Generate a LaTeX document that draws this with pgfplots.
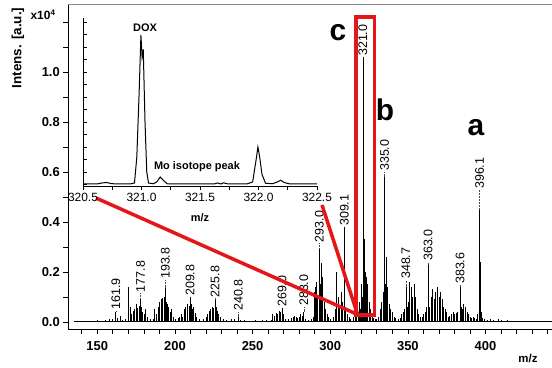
\documentclass[border=0pt]{standalone}
\usepackage{fontspec}
\setmainfont{Liberation Sans}
\usepackage{pgfplots}
\pgfplotsset{compat=1.18}
\definecolor{myred}{RGB}{228,22,26}
\begin{document}
\begin{tikzpicture}
\useasboundingbox (0bp,0bp) rectangle (552bp,368bp);
\begin{axis}[
  at={(68.3bp,39bp)}, anchor=south west, scale only axis,
  width=483.7bp, height=324bp,
  xmin=131.33, xmax=442.8, ymin=-0.028, ymax=1.268,
  axis x line*=bottom, axis y line*=left,
  axis line style={black, line width=0.8bp},
  clip=false,
  tick align=outside,
  xtick={150,200,250,300,350,400},
  minor xtick={140,160,170,180,190,210,220,230,240,260,270,280,290,310,320,330,340,360,370,380,390,410,420,430,440},
  ytick={0,0.2,0.4,0.6,0.8,1.0},
  minor ytick={0.1,0.3,0.5,0.7,0.9,1.1,1.2},
  major tick length=5bp, minor tick length=5bp,
  tick style={black, line width=0.7bp},
  /pgf/number format/assume math mode=true,
  ticklabel style={font=\fontsize{13}{13}\selectfont\bfseries},
  xticklabel style={yshift=-4bp, /pgf/number format/.cd, fixed, precision=0},
  yticklabel style={/pgf/number format/.cd, fixed, fixed zerofill, precision=1},
]
% baseline
\addplot[black, line width=0.6bp] coordinates {(135,0.002) (442.8,0.002)};
% spectrum sticks
\addplot[ycomb, black, line width=0.7bp, mark=none] coordinates {
(138,0.003) (142,0.004) (145,0.005) (148,0.004) (150,0.006) (153,0.005) (155,0.008) (158,0.01) (160,0.012)
(161.9,0.04) (163,0.015) (165,0.025) (166,0.008) (168,0.01)
(170,0.138) (171,0.06) (172,0.03) (173,0.045) (174,0.05) (175,0.07) (176,0.055) (177,0.065) (177.8,0.095) (178.5,0.06) (179,0.04) (180,0.03) (181,0.05) (182,0.02) (184,0.01)
(186,0.01) (187,0.05) (188,0.03) (189,0.06) (190,0.08) (191,0.09) (192,0.095) (193,0.1) (193.8,0.136) (194.5,0.08) (195,0.07) (196,0.06) (197,0.04) (198,0.05) (199,0.02) (200,0.01) (202,0.015)
(203,0.02) (204,0.03) (205,0.02) (206,0.05) (207,0.06) (208,0.07) (209,0.065) (209.8,0.1) (210.5,0.07) (211,0.05) (212,0.06) (213,0.035) (214,0.02) (216,0.01)
(218,0.01) (220,0.02) (221,0.03) (222,0.045) (223,0.05) (224,0.06) (225,0.055) (225.8,0.088) (226.5,0.06) (227,0.045) (228,0.03) (229,0.02) (231,0.01)
(233,0.006) (236,0.01) (238,0.012) (240.8,0.02) (242,0.008) (245,0.006) (248,0.005) (252,0.006) (256,0.008) (259,0.006) (262,0.008)
(263,0.03) (264,0.025) (265,0.035) (266,0.03) (267,0.045) (268,0.04) (269,0.056) (270,0.03) (271,0.01) (273,0.01) (275,0.015) (276,0.02) (277,0.025) (278,0.02) (279,0.015) (280,0.02) (281,0.03) (282,0.025) (283,0.04) (284,0.01) (286,0.008) (288,0.01)
(289,0.02) (290,0.12) (290.5,0.14) (291,0.16) (292,0.1) (293,0.295) (293.5,0.15) (294,0.17) (294.5,0.235) (295,0.18) (296,0.08) (297,0.05) (298,0.03) (299,0.02) (300,0.01) (302,0.02)
(303,0.05) (304,0.2) (305,0.1) (306,0.06) (307,0.12) (307.5,0.05) (308,0.08) (309.1,0.38) (310,0.06) (311,0.03) (312,0.02) (313,0.01) (315,0.02) (316,0.03)
(317,0.02) (318,0.04) (319,0.08) (319.5,0.05) (320,0.15) (320.5,0.1) (321.0,1.06) (321.3,0.6) (322.0,0.33) (322.5,0.2) (323,0.18) (323.5,0.12) (324,0.15) (325,0.08) (326,0.05) (327,0.03) (328,0.015) (329,0.01) (330,0.01)
(331,0.02) (332,0.05) (333,0.08) (334,0.12) (334.5,0.1) (335.0,0.58) (335.5,0.15) (336.2,0.26) (336.8,0.14) (337,0.1) (338,0.07) (339,0.05) (340,0.04) (341,0.02) (342,0.015) (344,0.01)
(345,0.015) (346,0.03) (347,0.04) (348,0.05) (348.7,0.14) (349.5,0.06) (350,0.08) (351,0.16) (352,0.14) (353,0.1) (354,0.15) (355,0.1) (356,0.05) (357,0.03) (358,0.02) (359,0.02)
(360,0.03) (361,0.04) (362,0.06) (363,0.228) (364,0.06) (365,0.1) (366,0.13) (367,0.09) (368,0.12) (369,0.14) (370,0.1) (371,0.12) (372,0.09) (373,0.06) (374,0.05) (375,0.04) (376,0.02)
(377,0.025) (378,0.03) (379,0.04) (380,0.03) (381,0.035) (382,0.04) (383.6,0.14) (384.5,0.06) (385,0.05) (386,0.07) (387,0.06) (388,0.04) (389,0.03) (390,0.02) (391,0.015) (392,0.02) (393,0.015) (394,0.01)
(395,0.03) (396.1,0.45) (396.6,0.24) (397,0.04) (398,0.015) (399,0.01) (401,0.008) (403,0.01) (405,0.008) (408,0.01) (410,0.007) (414,0.006) (418,0.005) (422,0.005) (426,0.004) (430,0.004) (435,0.003) (440,0.003)
};
% peak labels
\foreach \m/\h/\l in {161.9/0.04/0.045, 177.8/0.095/0.115, 193.8/0.136/0.168, 209.8/0.1/0.1, 225.8/0.088/0.095, 240.8/0.02/0.04, 269.0/0.056/0.056, 283.0/0.04/0.06, 293.0/0.295/0.315, 309.1/0.38/0.38, 321.0/1.06/1.06, 335.0/0.58/0.6, 348.7/0.14/0.168, 363.0/0.228/0.24, 383.6/0.14/0.148, 396.1/0.45/0.528}{
  \edef\temp{\noexpand\draw[black!70, densely dotted, line width=0.5bp] (axis cs:\m,\h) -- (axis cs:\m,\l);
  \noexpand\node[rotate=90, anchor=west, inner sep=1bp, font=\noexpand\fontsize{12.5}{12.5}\noexpand\selectfont] at (axis cs:\m,\l) {\m};}
  \temp
}
% red zoom box and lines
\draw[myred, line width=3.5bp] (axis cs:316.6,0.028) rectangle (axis cs:328.4,1.22);
\draw[myred, line width=3.5bp, line join=round] (axis cs:149.2,0.496) -- (axis cs:317.6,0.03) -- (axis cs:294.7,0.468);
\end{axis}
\draw[black!45, line width=1bp] (68.3bp,363bp) -- (552bp,363bp);
% inset
\begin{axis}[
  at={(83bp,182bp)}, anchor=south west, scale only axis,
  width=234bp, height=168bp,
  xmin=320.5, xmax=322.5, ymin=0.544, ymax=1.216,
  axis x line*=bottom, axis y line*=left,
  axis line style={black, line width=0.8bp},
  xtick={320.5,321,321.5,322,322.5},
  minor xtick={320.75,321.25,321.75,322.25},
  ytick={0.55,0.6,0.65,0.7,0.75,0.8,0.85,0.9,0.95,1.0,1.05,1.1,1.15,1.2},
  yticklabels={},
  xtick align=outside, ytick align=inside,
  major tick length=4bp, minor tick length=4bp,
  tick style={black, line width=0.7bp},
  /pgf/number format/assume math mode=true,
  xticklabel style={font=\fontsize{12}{12}\selectfont, /pgf/number format/.cd, fixed, fixed zerofill, precision=1},
  clip=false,
]
\addplot[black, line width=1bp, mark=none] coordinates {
(320.5,0.552) (320.62,0.552) (320.66,0.556) (320.7,0.558) (320.74,0.554) (320.78,0.552) (320.9,0.552) (320.94,0.556) (320.96,0.66) (320.98,0.92) (320.995,1.148) (321.005,1.06) (321.015,1.09) (321.03,0.8) (321.045,0.6) (321.06,0.556) (321.1,0.553) (321.13,0.56) (321.16,0.58) (321.19,0.565) (321.22,0.553) (321.3,0.552) (321.62,0.552) (321.65,0.556) (321.68,0.552) (321.7,0.557) (321.73,0.553) (321.9,0.552) (321.95,0.56) (321.98,0.65) (321.995,0.70) (322.01,0.66) (322.03,0.59) (322.06,0.555) (322.12,0.553) (322.16,0.56) (322.19,0.567) (322.22,0.558) (322.26,0.553) (322.5,0.552)
};
\end{axis}
% texts
\node[font=\fontsize{11}{11}\selectfont\bfseries] at (145bp,340bp) {DOX};
\node[font=\fontsize{11}{11}\selectfont\bfseries] at (197bp,201bp) {Mo isotope peak};
\node[font=\fontsize{11}{11}\selectfont\bfseries] at (200bp,150bp) {m/z};
\node[font=\fontsize{11.5}{11.5}\selectfont\bfseries] at (528bp,10bp) {m/z};
\node[font=\fontsize{12}{12}\selectfont\bfseries] at (43bp,353bp) {x10\textsuperscript{4}};
\node[rotate=90, font=\fontsize{13.5}{13.5}\selectfont\bfseries] at (18bp,320bp) {Intens. [a.u.]};
\node[font=\fontsize{30}{30}\selectfont\bfseries] at (338bp,335bp) {c};
\node[font=\fontsize{30}{30}\selectfont\bfseries] at (385bp,258bp) {b};
\node[font=\fontsize{30}{30}\selectfont\bfseries] at (476bp,240bp) {a};
\end{tikzpicture}
\end{document}
